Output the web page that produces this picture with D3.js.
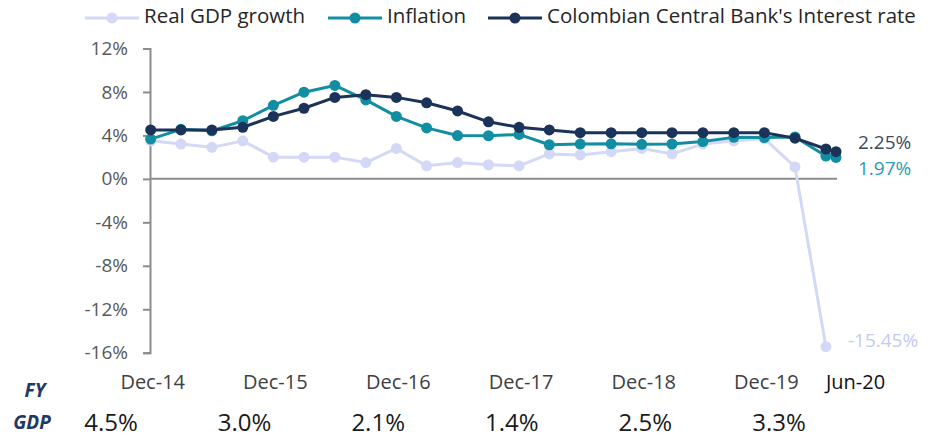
<!DOCTYPE html>
<html>
<head>
<meta charset="utf-8">
<script src="https://cdn.jsdelivr.net/npm/d3@7"></script>
<style>
  body { margin: 0; background: #fff; }
  text { font-family: "Open Sans", Lato, sans-serif; }
  .narrow { font-family: "Liberation Sans Narrow", "Open Sans", sans-serif; }
</style>
</head>
<body>
<div id="chart"></div>
<script>
"use strict"

// quarterly observations, last one is Jul-20 (monthly)
let periods = ["Dec-14", "Mar-15", "Jun-15", "Sep-15", "Dec-15", "Mar-16", "Jun-16", "Sep-16",
               "Dec-16", "Mar-17", "Jun-17", "Sep-17", "Dec-17", "Mar-18", "Jun-18", "Sep-18",
               "Dec-18", "Mar-19", "Jun-19", "Sep-19", "Dec-19", "Mar-20", "Jun-20", "Jul-20"];

let gdpGrowth = [3.5, 3.2, 2.9, 3.5, 2.0, 2.0, 2.0, 1.5, 2.8, 1.2, 1.5, 1.3,
                 1.2, 2.3, 2.2, 2.5, 2.8, 2.3, 3.2, 3.5, 3.7, 1.1, -15.45, null];

let inflation = [3.66, 4.56, 4.42, 5.35, 6.77, 7.98, 8.60, 7.27, 5.75, 4.69, 3.99, 3.97,
                 4.09, 3.14, 3.20, 3.23, 3.18, 3.21, 3.43, 3.82, 3.80, 3.86, 2.1, 1.97];

let interestRate = [4.5, 4.5, 4.5, 4.75, 5.75, 6.5, 7.5, 7.75, 7.5, 7.0, 6.25, 5.25,
                    4.75, 4.5, 4.25, 4.25, 4.25, 4.25, 4.25, 4.25, 4.25, 3.75, 2.75, 2.5];

let seriesNames = ["Real GDP growth", "Inflation", "Colombian Central Bank's Interest rate"];
let seriesColors = ["#d3d8f6", "#128ea3", "#1b3358"];

let yTicks = [-16, -12, -8, -4, 0, 4, 8, 12];
let xLabels = ["Dec-14", "Dec-15", "Dec-16", "Dec-17", "Dec-18", "Dec-19", "Jun-20"];

let fyGdp = [4.5, 3.0, 2.1, 1.4, 2.5, 3.3];

let endLabels = ["-15.45%", "1.97%", "2.25%"];

let width = 943;
let height = 439;

let parseDate = d3.timeParse("%b-%y");
let dates = periods.map(parseDate);

let x = d3.scaleTime()
    .domain(d3.extent(dates))
    .range([150.7, 836]);

let y = d3.scaleLinear()
    .domain([-16, 12])
    .range([352.7, 48.5]);

let svg = d3.select("#chart")
    .append("svg")
    .attr("width", width)
    .attr("height", height);

// y axis
let yAxis = svg.append("g")
    .attr("transform", "translate(150,0)")
    .call(d3.axisLeft(y)
        .tickValues(yTicks)
        .tickSize(7)
        .tickSizeOuter(7)
        .tickPadding(15)
        .tickFormat(d => d + "%"));

yAxis.selectAll("path, line")
    .attr("stroke", "#8c8c8c")
    .attr("stroke-width", 2);

yAxis.selectAll("text")
    .attr("fill", "#595959")
    .style("font-size", "19px");

// zero line
svg.append("line")
    .attr("x1", 150)
    .attr("x2", x(dates[dates.length - 1]) + 1)
    .attr("y1", y(0))
    .attr("y2", y(0))
    .attr("stroke", "#8c8c8c")
    .attr("stroke-width", 2);

// series
let allSeries = [gdpGrowth, inflation, interestRate];

allSeries.forEach(function (values, i) {
    let pts = values.map((v, j) => ({ date: dates[j], value: v }))
        .filter(p => p.value !== null);

    svg.append("path")
        .datum(pts)
        .attr("fill", "none")
        .attr("stroke", seriesColors[i])
        .attr("stroke-width", 3)
        .attr("stroke-linejoin", "round")
        .attr("d", d3.line().x(p => x(p.date)).y(p => y(p.value)));

    svg.append("g")
        .selectAll("circle")
        .data(pts)
        .join("circle")
        .attr("cx", p => x(p.date))
        .attr("cy", p => y(p.value))
        .attr("r", 5.5)
        .attr("fill", seriesColors[i]);
});

// end-of-series labels
let endOffsets = [-5, 12, -8];
allSeries.forEach(function (values, i) {
    let last = values.length - 1;
    while (values[last] === null) last--;
    svg.append("text")
        .attr("x", x(dates[last]) + 22)
        .attr("y", y(values[last]) + endOffsets[i])
        .attr("dominant-baseline", "middle")
        .attr("fill", i == 0 ? "#c3caf2" : (i == 1 ? "#2c9bb0" : "#3a4a66"))
        .style("font-size", "19px")
        .text(endLabels[i]);
});

// legend
let legendLineX = [85, 328, 488];
seriesNames.forEach(function (name, i) {
    let g = svg.append("g").attr("transform", "translate(" + legendLineX[i] + ",18)");
    g.append("line")
        .attr("x1", 0).attr("x2", 54)
        .attr("stroke", seriesColors[i])
        .attr("stroke-width", 3);
    g.append("circle")
        .attr("cx", 27)
        .attr("r", 5.5)
        .attr("fill", seriesColors[i]);
    g.append("text")
        .attr("x", 59)
        .attr("dominant-baseline", "middle")
        .attr("fill", "#262626")
        .style("font-size", "20.5px")
        .text(name);
});

// x labels
xLabels.forEach(function (lab) {
    let last = lab == "Jun-20";
    svg.append("text")
        .attr("class", "narrow")
        .attr("x", x(parseDate(lab)) + (last ? 0 : 2))
        .attr("y", 384)
        .attr("text-anchor", last ? "start" : "middle")
        .attr("dominant-baseline", "middle")
        .attr("fill", last ? "#111" : "#404040")
        .style("font-size", "20px")
        .text(lab);
});

// FY GDP row
svg.append("text")
    .attr("x", 35).attr("y", 392)
    .attr("text-anchor", "middle")
    .attr("dominant-baseline", "middle")
    .attr("fill", "#1f3864")
    .style("font-weight", "bold")
    .style("font-style", "italic")
    .style("font-size", "19px")
    .text("FY");

svg.append("text")
    .attr("x", 32).attr("y", 424)
    .attr("text-anchor", "middle")
    .attr("dominant-baseline", "middle")
    .attr("fill", "#1f3864")
    .style("font-weight", "bold")
    .style("font-style", "italic")
    .style("font-size", "19px")
    .text("GDP");

let fyX = d3.scaleLinear().domain([0, fyGdp.length - 1]).range([111, 779]);

svg.append("g")
    .selectAll("text")
    .data(fyGdp)
    .join("text")
    .attr("class", "narrow")
    .attr("x", (d, i) => fyX(i))
    .attr("y", 425)
    .attr("text-anchor", "middle")
    .attr("dominant-baseline", "middle")
    .attr("fill", "#1a1a1a")
    .style("font-size", "24px")
    .text(d => d.toFixed(1) + "%");
</script>
</body>
</html>
